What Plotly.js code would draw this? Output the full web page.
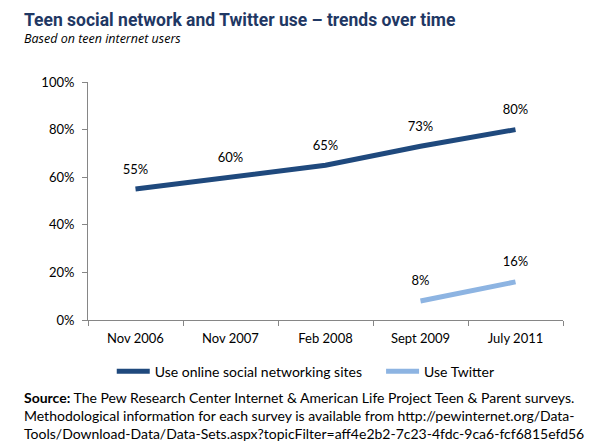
<!DOCTYPE html>
<html><head><meta charset="utf-8">
<script src="https://cdn.plot.ly/plotly-3.0.1.min.js"></script>
<style>body{margin:0;background:#fff}</style>
</head><body>
<div id="chart" style="width:601px;height:447px"></div>
<script>
const categories = ["Nov 2006", "Nov 2007", "Feb 2008", "Sept 2009", "July 2011"];
const socialValues = [55, 60, 65, 73, 80];
const twitterValues = [null, null, null, 8, 16];
const seriesNames = ["Use online social networking sites", "Use Twitter"];
const yTicks = [0, 20, 40, 60, 80, 100];
const yTickLabels = ["0%", "20%", "40%", "60%", "80%", "100%"];

const fontFam = "Lato, 'Open Sans', sans-serif";
const labelFont = {family: fontFam, size: 13, color: "#000"};

const traces = [
  {x: categories, y: socialValues, name: seriesNames[0], type: "scatter", mode: "lines+markers+text",
   line: {color: "#1F497D", width: 5}, marker: {size: 18, color: "rgba(0,0,0,0)"},
   text: socialValues.map(v => v + "%"), legend: "legend",
   textposition: "top center", textfont: labelFont, cliponaxis: false},
  {x: categories, y: twitterValues, name: seriesNames[1], type: "scatter", mode: "lines+markers+text",
   line: {color: "#8DB4E2", width: 5}, marker: {size: 18, color: "rgba(0,0,0,0)"},
   text: twitterValues.map(v => v == null ? "" : v + "%"), legend: "legend2",
   textposition: "top center", textfont: labelFont, cliponaxis: false}
];

const legendFont = {family: fontFam, size: 14, color: "#000"};
const layout = {
  width: 601, height: 447,
  margin: {l: 88, r: 38, t: 82, b: 127},
  paper_bgcolor: "#fff", plot_bgcolor: "#fff",
  showlegend: true,
  legend: {orientation: "h", x: 0.05, y: -0.15, xanchor: "left", yanchor: "top",
    font: legendFont, itemwidth: 33, bgcolor: "rgba(0,0,0,0)"},
  legend2: {orientation: "h", x: 0.617, y: -0.15, xanchor: "left", yanchor: "top",
    font: legendFont, itemwidth: 33, bgcolor: "rgba(0,0,0,0)"},
  xaxis: {type: "category", range: [-0.5, 4.5], tickson: "boundaries", ticks: "outside", ticklen: 5,
    tickcolor: "#868686", showline: true, linecolor: "#868686", linewidth: 1,
    showgrid: false, zeroline: false, fixedrange: true, ticklabelstandoff: 6,
    tickfont: {family: fontFam, size: 13, color: "#000"}},
  yaxis: {range: [0, 100], tickvals: yTicks, ticktext: yTickLabels, ticks: "outside", ticklen: 5,
    tickcolor: "#868686", showline: true, linecolor: "#868686", linewidth: 1,
    showgrid: false, zeroline: false, fixedrange: true, ticklabelstandoff: 5,
    tickfont: {family: fontFam, size: 13, color: "#000"}},
  annotations: [
    {xref: "paper", yref: "paper", x: -0.14, y: 1.21, xanchor: "left", yanchor: "bottom", showarrow: false,
     text: "<b>Teen social network and Twitter use – trends over time</b>",
     font: {family: "Roboto, sans-serif", size: 17.5, color: "#1F3864"}},
    {xref: "paper", yref: "paper", x: -0.14, y: 1.14, xanchor: "left", yanchor: "bottom", showarrow: false,
     text: "<i>Based on teen internet users</i>",
     font: {family: "'Open Sans', sans-serif", size: 12.5, color: "#000"}},
    {xref: "paper", yref: "paper", x: -0.14, y: -0.28, xanchor: "left", yanchor: "top", showarrow: false, align: "left",
     text: "<b>Source:</b> The Pew Research Center Internet &amp; American Life Project Teen &amp; Parent surveys.<br>Methodological information for each survey is available from http://pewinternet.org/Data-<br>Tools/Download-Data/Data-Sets.aspx?topicFilter=aff4e2b2-7c23-4fdc-9ca6-fcf6815efd56",
     font: {family: fontFam, size: 14, color: "#000"}}
  ]
};

Plotly.newPlot("chart", traces, layout, {displayModeBar: false, staticPlot: true});
</script>
</body></html>
